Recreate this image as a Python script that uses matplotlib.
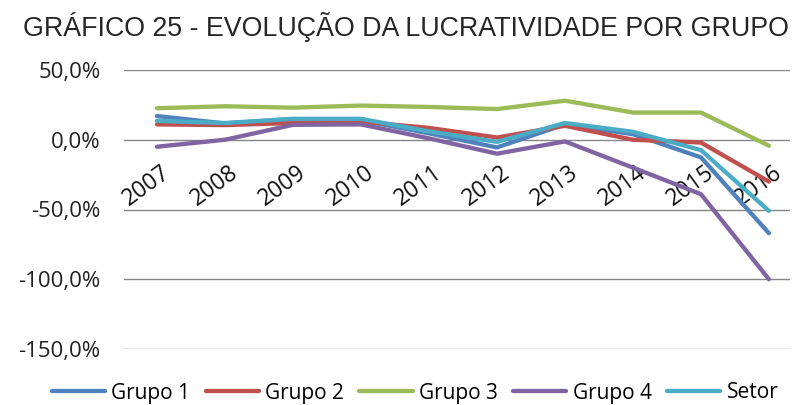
import matplotlib
matplotlib.use("Agg")
import matplotlib.pyplot as plt
import matplotlib.transforms as mtransforms

years = ["2007", "2008", "2009", "2010", "2011", "2012", "2013", "2014", "2015", "2016"]
grupo1 = [17.0, 11.7, 14.8, 14.0, 4.6, -5.5, 11.0, 4.0, -12.6, -67.0]
grupo2 = [11.0, 10.5, 12.0, 13.0, 8.5, 1.6, 10.0, 0.0, -2.0, -30.0]
grupo3 = [22.6, 24.0, 23.0, 24.5, 23.5, 22.0, 28.0, 19.5, 19.5, -4.3]
grupo4 = [-5.0, 0.0, 10.7, 11.0, 1.0, -10.0, -1.2, -20.0, -39.0, -100.0]
setor = [13.5, 12.0, 15.0, 15.0, 6.0, -1.5, 12.0, 5.7, -7.4, -51.0]
series_names = ["Grupo 1", "Grupo 2", "Grupo 3", "Grupo 4", "Setor"]
yticks = [50, 0, -50, -100, -150]
title = "GRÁFICO 25 - EVOLUÇÃO DA LUCRATIVIDADE POR GRUPO"

colors = ["#4F81BD", "#C0504D", "#9BBB59", "#8064A2", "#4BACC6"]

fig = plt.figure(figsize=(7.97, 4.05), dpi=100)
ax = fig.add_axes([124/797, 1-349/405, (790-124)/797, (349-70)/405])

x = list(range(len(years)))
for vals, name, c in zip([grupo1, grupo2, grupo3, grupo4, setor], series_names, colors):
    ax.plot(x, vals, color=c, lw=3.1, label=name, solid_capstyle="round", solid_joinstyle="round")

ax.set_ylim(-150, 50)
ax.set_xlim(-0.485, 9.31)
ax.set_yticks(yticks)
ax.set_yticklabels([f"{v:.1f}%".replace(".", ",") for v in yticks],
                   fontsize=16, family="Open Sans", color="#222222")
ax.grid(axis="y", color="#868686", lw=1.0)
ax.set_axisbelow(True)
for s in ax.spines.values():
    s.set_visible(False)
ax.tick_params(axis="y", length=0, pad=17)

ax.spines["bottom"].set_position(("data", 0))
ax.set_xticks(x)
ax.set_xticklabels(years, rotation=36, ha="right", rotation_mode="anchor",
                   fontsize=16.5, family="Open Sans", color="#111111")
ax.tick_params(axis="x", length=0, pad=15)
shift = mtransforms.ScaledTranslation(4/100, 0, fig.dpi_scale_trans)
for lab in ax.get_xticklabels():
    lab.set_transform(lab.get_transform() + shift)

fig.text(406/797, 1-27/405, title, ha="center", va="center", fontsize=19.3,
         family="Liberation Sans", color="#262626")

fig.legend(loc="center", bbox_to_anchor=(415/797, 1-393/405), ncol=5, frameon=False,
           prop={"family": "Open Sans", "size": 15}, handlelength=2.55, handletextpad=0.3,
           columnspacing=0.75, borderpad=0.1)

fig.savefig("out.png", dpi=100)
